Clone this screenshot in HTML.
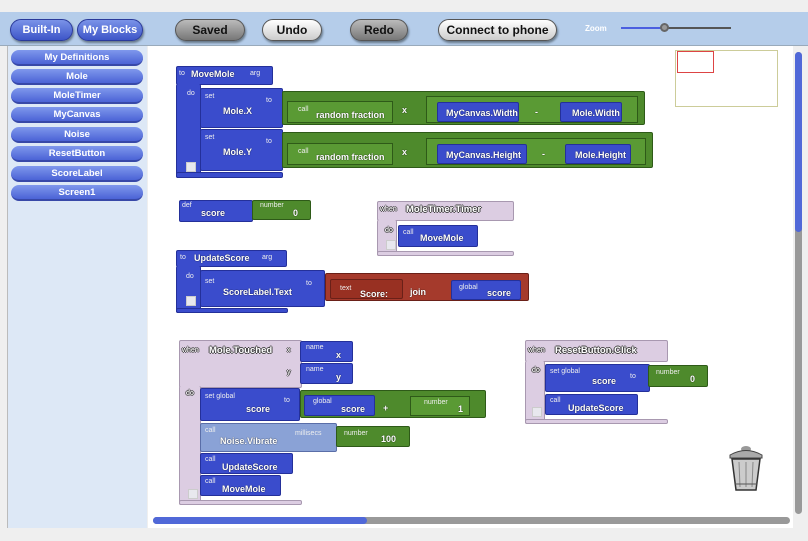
<!DOCTYPE html>
<html><head><meta charset="utf-8"><style>
*{box-sizing:border-box;margin:0;padding:0}
body{width:808px;height:541px;background:#efefef;position:relative;overflow:hidden;font-family:"Liberation Sans",sans-serif}
.a{position:absolute}
.tb{left:0;top:12px;width:808px;height:34px;background:#b5cdea;border-bottom:1px solid #9ab}
.btn{position:absolute;height:22px;border-radius:11px;font-size:12px;font-weight:bold;text-align:center;line-height:20px;border:1px solid #555;box-shadow:1px 2px 2px #678;white-space:nowrap;overflow:hidden}
.bl{background:linear-gradient(#7a93e8,#3d55c8);color:#fff;border-color:#2a3a9a;font-size:11px}
.gr{background:linear-gradient(#bbb,#777);color:#111}
.wh{background:linear-gradient(#fff,#ccc);color:#111}
.side{left:7px;top:46px;width:140px;height:482px;background:#dde8f6;border-left:1px solid #bbb}
.sb{position:absolute;left:3px;width:132px;height:16px;border-radius:8px;background:linear-gradient(#7f98ec,#4b63d6);color:#fff;font-size:9.5px;font-weight:bold;text-align:center;line-height:15px;border-bottom:2px solid #3748a8}
.cv{left:148px;top:46px;width:645px;height:482px;background:#fff}
.b{position:absolute;background:#3a4ccc;border:1px solid #24309a;border-radius:2px;color:#fff}
.g{position:absolute;background:#4e8a2c;border:1px solid #2e5a18;border-radius:2px;color:#fff}
.g2{position:absolute;background:#5a9a34;border:1px solid #2e5a18;color:#fff}
.p{position:absolute;background:#dccde2;border:1px solid #a898b0;border-radius:2px;color:#fff}
.r{position:absolute;background:#a53a2c;border:1px solid #6a2018;border-radius:2px;color:#fff}
.lb{position:absolute;background:#8aa2d6;border:1px solid #5a6ea8;border-radius:2px;color:#fff}
.t{position:absolute;font-size:9px;font-weight:bold;color:#fff;white-space:nowrap;text-shadow:0 0 1px #000}
.s{position:absolute;font-size:7px;color:#eee;white-space:nowrap}
.pt{position:absolute;font-size:9.5px;font-weight:bold;color:#fff;white-space:nowrap;text-shadow:1px 0 0 #444,-1px 0 0 #444,0 1px 0 #444,0 -1px 0 #444}
.ps{position:absolute;font-size:7px;color:#fff;white-space:nowrap;text-shadow:1px 0 0 #444,-1px 0 0 #444,0 1px 0 #444,0 -1px 0 #444}
.mn{position:absolute;width:10px;height:10px;border:1px solid #ccc;background:#e8e8ee}
</style></head><body>
<div class="a tb"></div>
<div class="btn bl" style="left:10px;top:19px;width:63px">Built-In</div>
<div class="btn bl" style="left:77px;top:19px;width:66px">My Blocks</div>
<div class="btn gr" style="left:175px;top:19px;width:70px">Saved</div>
<div class="btn wh" style="left:262px;top:19px;width:60px">Undo</div>
<div class="btn gr" style="left:350px;top:19px;width:58px">Redo</div>
<div class="btn wh" style="left:438px;top:19px;width:119px">Connect to phone</div>
<div class="a" style="left:585px;top:24px;font-size:8px;color:#fff;font-weight:bold">Zoom</div>
<div class="a" style="left:621px;top:27px;width:40px;height:2px;background:#4b5fe0"></div>
<div class="a" style="left:661px;top:27px;width:70px;height:2px;background:#555"></div>
<div class="a" style="left:660px;top:23px;width:9px;height:9px;border-radius:50%;background:#999;border:2px solid #666"></div>

<div class="a side">
<div class="sb" style="top:4px">My Definitions</div>
<div class="sb" style="top:23px">Mole</div>
<div class="sb" style="top:42px">MoleTimer</div>
<div class="sb" style="top:61px">MyCanvas</div>
<div class="sb" style="top:81px">Noise</div>
<div class="sb" style="top:100px">ResetButton</div>
<div class="sb" style="top:120px">ScoreLabel</div>
<div class="sb" style="top:139px">Screen1</div>
</div>
<div class="a cv"></div>
<div class="a" style="left:675px;top:50px;width:103px;height:57px;background:#fff;border:1px solid #cc9"></div>
<div class="a" style="left:677px;top:51px;width:37px;height:22px;border:1px solid #d44"></div>
<div class="a" style="left:795px;top:52px;width:7px;height:462px;background:#999;border-radius:4px"></div>
<div class="a" style="left:795px;top:52px;width:7px;height:180px;background:#5068d8;border-radius:4px"></div>
<div class="a" style="left:153px;top:517px;width:637px;height:7px;background:#999;border-radius:4px"></div>
<div class="a" style="left:153px;top:517px;width:214px;height:7px;background:#5068d8;border-radius:4px"></div>

<!-- MoveMole -->
<div class="b" style="left:176px;top:66px;width:97px;height:19px"></div>
<div class="b" style="left:176px;top:84px;width:25px;height:94px;border-top:none"></div>
<div class="b" style="left:176px;top:172px;width:107px;height:6px"></div>
<div class="s" style="left:179px;top:70px">to</div><div class="t" style="left:191px;top:69px">MoveMole</div><div class="s" style="left:250px;top:70px">arg</div>
<div class="s" style="left:187px;top:90px">do</div>
<div class="mn" style="left:186px;top:162px"></div>
<div class="b" style="left:200px;top:88px;width:83px;height:40px"></div>
<div class="s" style="left:205px;top:93px">set</div><div class="s" style="left:266px;top:97px">to</div><div class="t" style="left:223px;top:106px">Mole.X</div>
<div class="b" style="left:200px;top:129px;width:83px;height:42px"></div>
<div class="s" style="left:205px;top:134px">set</div><div class="s" style="left:266px;top:138px">to</div><div class="t" style="left:223px;top:147px">Mole.Y</div>
<div class="g" style="left:282px;top:91px;width:363px;height:34px"></div>
<div class="g2" style="left:287px;top:101px;width:106px;height:22px"></div>
<div class="s" style="left:298px;top:106px">call</div><div class="t" style="left:316px;top:110px">random fraction</div>
<div class="t" style="left:402px;top:105px">x</div>
<div class="g2" style="left:426px;top:96px;width:212px;height:27px"></div>
<div class="b" style="left:437px;top:102px;width:82px;height:20px"></div><div class="t" style="left:446px;top:108px">MyCanvas.Width</div>
<div class="t" style="left:535px;top:107px">-</div>
<div class="b" style="left:560px;top:102px;width:62px;height:20px"></div><div class="t" style="left:572px;top:108px">Mole.Width</div>
<div class="g" style="left:282px;top:132px;width:371px;height:36px"></div>
<div class="g2" style="left:287px;top:143px;width:106px;height:22px"></div>
<div class="s" style="left:298px;top:148px">call</div><div class="t" style="left:316px;top:152px">random fraction</div>
<div class="t" style="left:402px;top:147px">x</div>
<div class="g2" style="left:426px;top:138px;width:220px;height:27px"></div>
<div class="b" style="left:437px;top:144px;width:90px;height:20px"></div><div class="t" style="left:446px;top:150px">MyCanvas.Height</div>
<div class="t" style="left:542px;top:149px">-</div>
<div class="b" style="left:565px;top:144px;width:66px;height:20px"></div><div class="t" style="left:575px;top:150px">Mole.Height</div>

<!-- def score -->
<div class="b" style="left:179px;top:200px;width:74px;height:22px"></div>
<div class="s" style="left:182px;top:202px">def</div><div class="t" style="left:201px;top:208px">score</div>
<div class="g" style="left:252px;top:200px;width:59px;height:20px"></div>
<div class="s" style="left:260px;top:202px">number</div><div class="t" style="left:293px;top:208px">0</div>

<!-- MoleTimer -->
<div class="p" style="left:377px;top:201px;width:137px;height:20px"></div>
<div class="p" style="left:377px;top:220px;width:20px;height:36px;border-top:none"></div>
<div class="p" style="left:377px;top:251px;width:137px;height:5px"></div>
<div class="ps" style="left:380px;top:206px">when</div><div class="pt" style="left:406px;top:204px">MoleTimer.Timer</div>
<div class="ps" style="left:385px;top:227px">do</div>
<div class="mn" style="left:386px;top:240px"></div>
<div class="b" style="left:398px;top:225px;width:80px;height:22px"></div>
<div class="s" style="left:403px;top:229px">call</div><div class="t" style="left:420px;top:233px">MoveMole</div>

<!-- UpdateScore -->
<div class="b" style="left:176px;top:250px;width:111px;height:17px"></div>
<div class="b" style="left:176px;top:266px;width:25px;height:47px;border-top:none"></div>
<div class="b" style="left:176px;top:308px;width:112px;height:5px"></div>
<div class="s" style="left:180px;top:254px">to</div><div class="t" style="left:194px;top:253px">UpdateScore</div><div class="s" style="left:262px;top:254px">arg</div>
<div class="s" style="left:186px;top:273px">do</div>
<div class="mn" style="left:186px;top:296px"></div>
<div class="b" style="left:200px;top:270px;width:125px;height:37px"></div>
<div class="s" style="left:205px;top:278px">set</div><div class="s" style="left:306px;top:280px">to</div><div class="t" style="left:223px;top:287px">ScoreLabel.Text</div>
<div class="r" style="left:325px;top:273px;width:204px;height:28px"></div>
<div class="r" style="left:330px;top:279px;width:73px;height:20px;background:#983022"></div>
<div class="s" style="left:340px;top:285px">text</div><div class="t" style="left:360px;top:289px">Score:</div>
<div class="t" style="left:410px;top:287px">join</div>
<div class="b" style="left:451px;top:280px;width:70px;height:20px"></div>
<div class="s" style="left:459px;top:284px">global</div><div class="t" style="left:487px;top:288px">score</div>

<!-- Mole.Touched -->
<div class="p" style="left:179px;top:340px;width:123px;height:48px"></div>
<div class="p" style="left:179px;top:386px;width:22px;height:119px;border-top:none"></div>
<div class="p" style="left:179px;top:500px;width:123px;height:5px"></div>
<div class="ps" style="left:182px;top:347px">when</div><div class="pt" style="left:209px;top:345px">Mole.Touched</div>
<div class="ps" style="left:287px;top:347px">x</div><div class="ps" style="left:287px;top:369px">y</div>
<div class="ps" style="left:186px;top:390px">do</div>
<div class="mn" style="left:188px;top:489px"></div>
<div class="b" style="left:300px;top:341px;width:53px;height:21px"></div><div class="s" style="left:306px;top:344px">name</div><div class="t" style="left:336px;top:350px">x</div>
<div class="b" style="left:300px;top:363px;width:53px;height:21px"></div><div class="s" style="left:306px;top:366px">name</div><div class="t" style="left:336px;top:372px">y</div>
<div class="b" style="left:200px;top:388px;width:100px;height:33px"></div>
<div class="s" style="left:205px;top:393px">set global</div><div class="s" style="left:284px;top:397px">to</div><div class="t" style="left:246px;top:404px">score</div>
<div class="g" style="left:300px;top:390px;width:186px;height:28px"></div>
<div class="b" style="left:304px;top:395px;width:71px;height:21px"></div><div class="s" style="left:313px;top:398px">global</div><div class="t" style="left:341px;top:404px">score</div>
<div class="t" style="left:383px;top:403px">+</div>
<div class="g2" style="left:410px;top:396px;width:60px;height:20px"></div><div class="s" style="left:424px;top:399px">number</div><div class="t" style="left:458px;top:404px">1</div>
<div class="lb" style="left:200px;top:423px;width:137px;height:29px"></div>
<div class="s" style="left:205px;top:427px">call</div><div class="t" style="left:220px;top:436px">Noise.Vibrate</div><div class="s" style="left:295px;top:430px">millisecs</div>
<div class="g" style="left:336px;top:426px;width:74px;height:21px"></div><div class="s" style="left:344px;top:430px">number</div><div class="t" style="left:381px;top:434px">100</div>
<div class="b" style="left:200px;top:453px;width:93px;height:21px"></div><div class="s" style="left:205px;top:456px">call</div><div class="t" style="left:222px;top:462px">UpdateScore</div>
<div class="b" style="left:200px;top:475px;width:81px;height:21px"></div><div class="s" style="left:205px;top:478px">call</div><div class="t" style="left:222px;top:484px">MoveMole</div>

<!-- ResetButton.Click -->
<div class="p" style="left:525px;top:340px;width:143px;height:22px"></div>
<div class="p" style="left:525px;top:361px;width:20px;height:63px;border-top:none"></div>
<div class="p" style="left:525px;top:419px;width:143px;height:5px"></div>
<div class="ps" style="left:528px;top:347px">when</div><div class="pt" style="left:555px;top:345px">ResetButton.Click</div>
<div class="ps" style="left:532px;top:367px">do</div>
<div class="mn" style="left:532px;top:407px"></div>
<div class="b" style="left:545px;top:364px;width:105px;height:28px"></div>
<div class="s" style="left:550px;top:368px">set global</div><div class="s" style="left:630px;top:373px">to</div><div class="t" style="left:592px;top:376px">score</div>
<div class="g" style="left:648px;top:365px;width:60px;height:22px"></div><div class="s" style="left:656px;top:369px">number</div><div class="t" style="left:690px;top:374px">0</div>
<div class="b" style="left:545px;top:394px;width:93px;height:21px"></div><div class="s" style="left:550px;top:397px">call</div><div class="t" style="left:568px;top:403px">UpdateScore</div>

<svg class="a" style="left:725px;top:444px" width="42" height="50" viewBox="0 0 42 50">
<ellipse cx="21" cy="5" rx="5" ry="3" fill="#999"/>
<path d="M5 11 Q21 2 37 11 L37 14 L5 14Z" fill="#aaa" stroke="#444"/>
<path d="M7 15 L35 15 L31 46 L11 46Z" fill="#ccc" stroke="#333" stroke-width="1.5"/>
<path d="M14 18 L15 43 M21 18 L21 43 M28 18 L27 43" stroke="#888"/>
<path d="M10 40 L32 40" stroke="#555"/>
</svg>
</body></html>
